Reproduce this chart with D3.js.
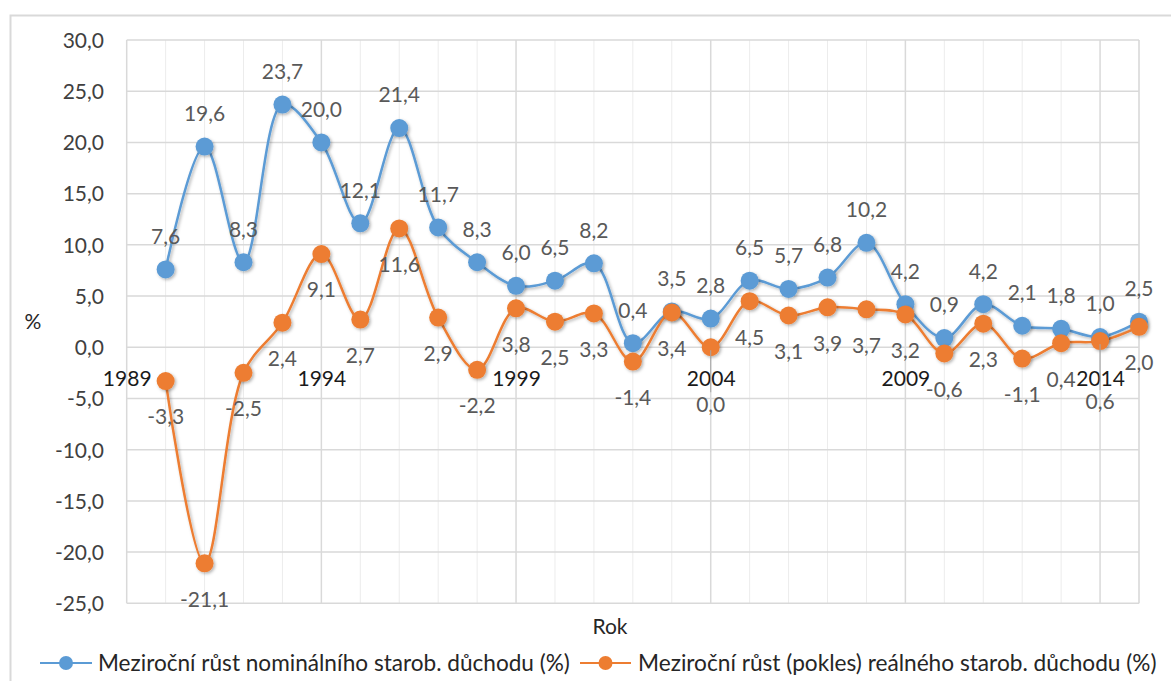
<!DOCTYPE html>
<html>
<head>
<meta charset="utf-8">
<script src="https://cdn.jsdelivr.net/npm/d3@7"></script>
<style>
  html, body { margin: 0; padding: 0; background: #fff; }
  svg { display: block; font-family: Lato, "Open Sans", sans-serif; }
</style>
</head>
<body>
<svg id="chart" width="1171" height="681"></svg>
<script>
// ---- data ----
const years = [1990,1991,1992,1993,1994,1995,1996,1997,1998,1999,2000,2001,2002,2003,2004,2005,2006,2007,2008,2009,2010,2011,2012,2013,2014,2015];
const nominal = [7.6,19.6,8.3,23.7,20.0,12.1,21.4,11.7,8.3,6.0,6.5,8.2,0.4,3.5,2.8,6.5,5.7,6.8,10.2,4.2,0.9,4.2,2.1,1.8,1.0,2.5];
const real = [-3.3,-21.1,-2.5,2.4,9.1,2.7,11.6,2.9,-2.2,3.8,2.5,3.3,-1.4,3.4,0.0,4.5,3.1,3.9,3.7,3.2,-0.6,2.3,-1.1,0.4,0.6,2.0];
const yTicks = [-25,-20,-15,-10,-5,0,5,10,15,20,25,30];
const xTickLabels = [1989,1994,1999,2004,2009,2014];
const seriesNames = ["Meziroční růst nominálního starob. důchodu (%)", "Meziroční růst (pokles) reálného starob. důchodu (%)"];
const xTitle = "Rok";
const yTitle = "%";

// ---- layout / style ----
const colors = ["#5b9bd5", "#ed7d31"];
const movedLabels = { "1:2004": 57, "1:2014": 61 }; // labels dragged further down with leader lines

const svg = d3.select("#chart");
const plot = { left: 126.7, right: 1139, top: 40, bottom: 603.3 };

const loc = d3.formatLocale({ decimal: ",", thousands: " ", grouping: [3], currency: ["", ""], minus: "-" });
const f1 = loc.format(".1f");

const x = d3.scaleLinear().domain([1989, 2015]).range([plot.left, plot.right]);
const y = d3.scaleLinear().domain([-25, 30]).range([plot.bottom, plot.top]);

// chart area border
svg.append("rect").attr("x", 10.5).attr("y", 15.5).attr("width", 1200).attr("height", 700)
  .attr("fill", "#fff").attr("stroke", "#d9d9d9").attr("stroke-width", 2);

// defs: shadow
const defs = svg.append("defs");
const flt = defs.append("filter").attr("id", "sh").attr("x", "-50%").attr("y", "-50%").attr("width", "200%").attr("height", "200%");
flt.append("feDropShadow").attr("dx", 1.5).attr("dy", 1.5).attr("stdDeviation", 1.5).attr("flood-color", "#000").attr("flood-opacity", 0.3);

// gridlines
const g = svg.append("g");
const minorYears = d3.range(1989, 2016);
g.selectAll("line.vx").data(minorYears).join("line")
  .attr("x1", d => x(d)).attr("x2", d => x(d)).attr("y1", plot.top).attr("y2", plot.bottom)
  .attr("stroke", d => (d - 1989) % 5 === 0 ? "#d9d9d9" : "#ececec").attr("stroke-width", d => (d - 1989) % 5 === 0 ? 1.5 : 1);
g.selectAll("line.hy").data(yTicks).join("line")
  .attr("x1", plot.left).attr("x2", plot.right).attr("y1", d => y(d)).attr("y2", d => y(d))
  .attr("stroke", "#d9d9d9").attr("stroke-width", 1.5);
g.append("line").attr("x1", plot.right).attr("x2", plot.right).attr("y1", plot.top).attr("y2", plot.bottom)
  .attr("stroke", "#d9d9d9").attr("stroke-width", 1.5);

// y axis labels
const yAxis = d3.axisLeft(y).tickValues(yTicks).tickFormat(f1).tickSize(0).tickPadding(0);
const ya = svg.append("g").attr("transform", `translate(104,0)`).call(yAxis);
ya.select(".domain").remove();
ya.selectAll("text").attr("font-size", 21).attr("fill", "#404040").attr("font-family", "Lato").attr("dy", "0.35em");

// x labels (at y = 0 crossing)
const xa = svg.append("g").attr("transform", `translate(0,${y(0) + 31})`)
  .call(d3.axisBottom(x).tickValues(xTickLabels).tickFormat(d3.format("d")).tickSize(0).tickPadding(0));
xa.select(".domain").remove();
xa.selectAll("text").attr("font-size", 21).attr("fill", "#1a1a1a").attr("font-family", "Lato").attr("dy", "0.35em");

// titles
svg.append("text").attr("x", 33).attr("y", 322).attr("text-anchor", "middle").attr("dy", "0.35em")
  .attr("font-size", 21).attr("fill", "#262626").text(yTitle);
svg.append("text").attr("x", 610).attr("y", 627).attr("text-anchor", "middle").attr("dy", "0.35em")
  .attr("font-size", 21).attr("fill", "#262626").text(xTitle);

// series
const line = d3.line().x(d => x(d[0])).y(d => y(d[1])).curve(d3.curveCatmullRom.alpha(0.5));
const series = [nominal, real];
series.forEach((vals, si) => {
  const pts = years.map((yr, i) => [yr, vals[i]]);
  svg.append("path").datum(pts).attr("d", line).attr("fill", "none")
    .attr("stroke", colors[si]).attr("stroke-width", 2.5).attr("filter", "url(#sh)");
});
series.forEach((vals, si) => {
  const pts = years.map((yr, i) => [yr, vals[i]]);
  svg.append("g").selectAll("circle").data(pts).join("circle")
    .attr("cx", d => x(d[0])).attr("cy", d => y(d[1])).attr("r", 9)
    .attr("fill", colors[si]).attr("filter", "url(#sh)");
});

// data labels
series.forEach((vals, si) => {
  const pts = years.map((yr, i) => [yr, vals[i]]);
  const lg = svg.append("g");
  pts.forEach(d => {
    const key = si + ":" + d[0];
    let off = si === 0 ? -33 : 36;
    if (movedLabels[key]) {
      off = movedLabels[key];
      lg.append("line").attr("x1", x(d[0])).attr("x2", x(d[0]))
        .attr("y1", y(d[1]) + 3).attr("y2", y(d[1]) + off - 12)
        .attr("stroke", "#a6a6a6").attr("stroke-width", 1);
    }
    lg.append("text").attr("x", x(d[0])).attr("y", y(d[1]) + off)
      .attr("text-anchor", "middle").attr("dy", "0.35em")
      .attr("font-size", 21).attr("fill", "#595959").text(f1(d[1]));
  });
});

// legend
const legendItems = [
  { x0: 40, x1: 92, tx: 98, name: seriesNames[0], c: colors[0], tw: 472 },
  { x0: 580, x1: 631, tx: 638, name: seriesNames[1], c: colors[1], tw: 519 }
];
const ly = 663;
legendItems.forEach(it => {
  svg.append("line").attr("x1", it.x0).attr("x2", it.x1).attr("y1", ly).attr("y2", ly)
    .attr("stroke", it.c).attr("stroke-width", 2);
  svg.append("circle").attr("cx", (it.x0 + it.x1) / 2).attr("cy", ly).attr("r", 7).attr("fill", it.c);
  const t = svg.append("text").attr("x", it.tx).attr("y", ly).attr("dy", "0.35em")
    .attr("font-size", 21).attr("fill", "#262626").text(it.name);
  const w = t.node().getComputedTextLength();
  t.attr("font-size", 21 * it.tw / w);
});
</script>
</body>
</html>
